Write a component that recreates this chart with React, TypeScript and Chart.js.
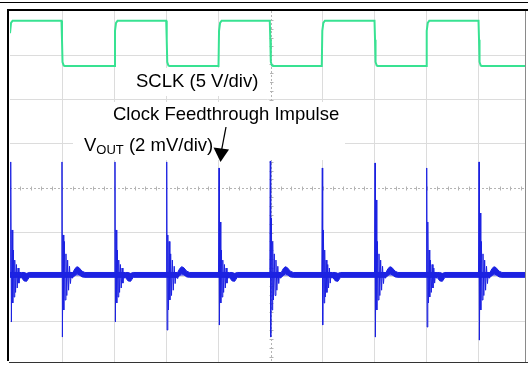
import { useEffect, useRef } from "react";
import { Chart, registerables } from "chart.js";

Chart.register(...registerables);

// ---- axes (oscilloscope divisions) ----
const timeMin = 0;
const timeMax = 9.894;
const levelMin = -3.92;
const levelMax = 4;
const gridTimes = [1, 2, 3, 4, 5, 6, 7, 8, 9];
const gridLevels = [-3, -2, -1, 0, 1, 2, 3];
const centerTime = 5;
const centerLevel = 0;

// ---- SCLK trace (divisions) ----
const sclkTime = [
  0.0, 0.02, 0.05,
  0.988, 0.998, 1.008, 1.03, 1.05,
  2.005, 2.015, 2.035, 2.065,
  2.998, 3.008, 3.018, 3.04, 3.06,
  4.002, 4.012, 4.032, 4.062,
  4.986, 4.996, 5.006, 5.028, 5.048,
  5.984, 5.994, 6.014, 6.044,
  6.996, 7.006, 7.016, 7.038, 7.058,
  7.988, 7.998, 8.018, 8.048,
  8.992, 9.002, 9.012, 9.034, 9.054,
  9.894,
];
const sclkLevel = [
  3.5, 3.73, 3.78,
  3.78, 3.35, 2.85, 2.77, 2.76,
  2.76, 3.55, 3.73, 3.78,
  3.78, 3.35, 2.85, 2.77, 2.76,
  2.76, 3.55, 3.73, 3.78,
  3.78, 3.35, 2.85, 2.77, 2.76,
  2.76, 3.55, 3.73, 3.78,
  3.78, 3.35, 2.85, 2.77, 2.76,
  2.76, 3.55, 3.73, 3.78,
  3.78, 3.35, 2.85, 2.77, 2.76,
  2.76,
];

// ---- VOUT trace (divisions) ----
const voutBaseline = -1.957;
const voutBandMax = -1.9;
const voutBandMin = -2.01;
const clockEdgeTime = [0.019, 0.998, 2.015, 3.008, 4.012, 4.996, 5.994, 7.006, 7.998, 9.002];
const edgeIsRising = [true, false, true, false, true, false, true, false, true, false];
const spikeTop = [0.594, 0.594, 0.594, 0.594, 0.458, 0.616, 0.458, 0.571, 0.458, 0.594];
const spikeBottom = [-3.018, -3.357, -3.018, -3.199, -3.086, -3.357, -3.086, -3.357, -3.131, -3.425];
const spikeSecond = [-0.941, -1.054, -0.941, -1.054, -0.761, -0.67, -0.941, -0.264, -0.761, -0.558];
// ringing after a rising clock edge (offset from edge, level)
const riseRingOffset = [0.034, 0.046, 0.058, 0.072, 0.088, 0.104, 0.12, 0.136, 0.152, 0.17, 0.188, 0.206];
const riseRingLevel = [-2.589, -1.393, -2.454, -1.62, -2.35, -1.72, -2.25, -1.8, -2.14, -1.9, -2.03, -1.957];
// ringing after a falling clock edge
const fallRingOffset = [0.034, 0.046, 0.06, 0.076, 0.092, 0.108, 0.126, 0.144, 0.162, 0.18, 0.198, 0.216];
const fallRingLevel = [-2.747, -1.2, -2.521, -1.48, -2.42, -1.62, -2.3, -1.76, -2.15, -1.89, -2.03, -1.957];
// slow settling of the noise band after each edge
const riseSettleOffset = [0.2, 0.25, 0.3, 0.35];
const riseSettleMax = [-1.9, -1.9, -1.92, -1.9];
const riseSettleMin = [-2.01, -2.09, -2.1, -2.01];
const fallSettleOffset = [0.21, 0.25, 0.288, 0.326, 0.384, 0.44];
const fallSettleMax = [-1.9, -1.81, -1.77, -1.79, -1.87, -1.9];
const fallSettleMin = [-2.01, -1.97, -1.93, -1.95, -2.0, -2.01];

// ---- labels ----
const sclkLabel = "SCLK (5 V/div)";
const impulseLabel = "Clock Feedthrough Impulse";
const voutMain = "V";
const voutSub = "OUT";
const voutRest = " (2 mV/div)";

const BLUE = "rgb(28,34,226)";
const GREEN = "rgb(56,226,146)";
const FONT = '"Liberation Sans", Arial, Helvetica, sans-serif';

function buildVout() {
  const line: { x: number; y: number }[] = [{ x: timeMin, y: voutBaseline }];
  const bandMax: { x: number; y: number }[] = [{ x: timeMin, y: voutBandMax }];
  const bandMin: { x: number; y: number }[] = [{ x: timeMin, y: voutBandMin }];
  clockEdgeTime.forEach((e, i) => {
    const rising = edgeIsRising[i];
    line.push({ x: e - 0.01, y: voutBaseline });
    line.push({ x: e, y: spikeTop[i] });
    line.push({ x: e + 0.0077, y: spikeBottom[i] });
    line.push({ x: e + 0.021, y: spikeSecond[i] });
    const off = rising ? riseRingOffset : fallRingOffset;
    const lv = rising ? riseRingLevel : fallRingLevel;
    off.forEach((o, k) => line.push({ x: e + o, y: lv[k] }));
    const so = rising ? riseSettleOffset : fallSettleOffset;
    const sMax = rising ? riseSettleMax : fallSettleMax;
    const sMin = rising ? riseSettleMin : fallSettleMin;
    so.forEach((o, k) => {
      bandMax.push({ x: e + o, y: sMax[k] });
      bandMin.push({ x: e + o, y: sMin[k] });
    });
  });
  line.push({ x: timeMax, y: voutBaseline });
  bandMax.push({ x: timeMax, y: voutBandMax });
  bandMin.push({ x: timeMax, y: voutBandMin });
  return { line, bandMax, bandMin };
}

const decorPlugin = {
  id: "scopeDecor",
  beforeDatasetsDraw(chart: any) {
    const { ctx, chartArea, scales } = chart;
    const xs = scales.x;
    const ys = scales.y;
    ctx.save();
    const cy = Math.round(ys.getPixelForValue(centerLevel)) + 0.5;
    const cx = Math.round(xs.getPixelForValue(centerTime)) + 0.5;
    ctx.strokeStyle = "#b4b4b4";
    ctx.lineWidth = 1;
    ctx.setLineDash([2, 2]);
    ctx.beginPath();
    ctx.moveTo(chartArea.left, cy);
    ctx.lineTo(chartArea.right, cy);
    ctx.moveTo(cx, chartArea.top);
    ctx.lineTo(cx, chartArea.bottom);
    ctx.stroke();
    ctx.setLineDash([]);
    ctx.beginPath();
    for (let t = timeMin; t <= timeMax; t += 0.2) {
      const px = Math.round(xs.getPixelForValue(t)) + 0.5;
      ctx.moveTo(px, cy - 2);
      ctx.lineTo(px, cy + 2);
    }
    for (let v = -3.8; v <= levelMax; v += 0.2) {
      const py = Math.round(ys.getPixelForValue(v)) + 0.5;
      ctx.moveTo(cx - 2, py);
      ctx.lineTo(cx + 2, py);
    }
    ctx.stroke();
    ctx.fillStyle = "#ffffff";
    ctx.fillRect(125, 68, 145, 28);
    ctx.fillRect(73, 102, 272, 58);
    ctx.restore();
  },
  afterDatasetsDraw(chart: any) {
    const { ctx } = chart;
    ctx.save();
    ctx.fillStyle = "#000";
    ctx.textBaseline = "alphabetic";
    ctx.font = `18.5px ${FONT}`;
    ctx.fillText(sclkLabel, 136, 87);
    ctx.fillText(impulseLabel, 113, 120);
    let x = 84;
    ctx.fillText(voutMain, x, 151);
    x += ctx.measureText(voutMain).width;
    ctx.font = `13px ${FONT}`;
    ctx.fillText(voutSub, x, 154);
    x += ctx.measureText(voutSub).width;
    ctx.font = `18.5px ${FONT}`;
    ctx.fillText(voutRest, x, 151);
    ctx.strokeStyle = "#000";
    ctx.lineWidth = 1.3;
    ctx.beginPath();
    ctx.moveTo(226, 127);
    ctx.lineTo(221.6, 150);
    ctx.stroke();
    ctx.beginPath();
    ctx.moveTo(220.5, 162);
    ctx.lineTo(213.5, 147.5);
    ctx.lineTo(229, 149.5);
    ctx.closePath();
    ctx.fill();
    ctx.restore();
  },
  afterDraw(chart: any) {
    const { ctx } = chart;
    ctx.save();
    ctx.fillStyle = "#000";
    ctx.fillRect(0, 2, 528, 1);
    ctx.fillRect(7, 9, 521, 2);
    ctx.fillRect(7, 9, 2, 352);
    ctx.fillStyle = "#8a8a8a";
    ctx.fillRect(525, 11, 1, 352);
    ctx.fillStyle = "#333";
    ctx.fillRect(9, 362, 519, 1);
    ctx.restore();
  },
};

export default function App() {
  const canvasRef = useRef<HTMLCanvasElement | null>(null);

  useEffect(() => {
    document.body.style.margin = "0";
    const canvas = canvasRef.current;
    if (!canvas) return;
    const { line, bandMax, bandMin } = buildVout();
    const sclkPts = sclkTime.map((t, i) => ({ x: t, y: sclkLevel[i] }));
    const chart = new Chart(canvas, {
      type: "line",
      data: {
        datasets: [
          {
            label: "VOUT noise max",
            data: bandMax,
            borderColor: BLUE,
            borderWidth: 1,
            pointRadius: 0,
            tension: 0,
            fill: false,
          },
          {
            label: "VOUT noise min",
            data: bandMin,
            borderColor: BLUE,
            backgroundColor: BLUE,
            borderWidth: 1,
            pointRadius: 0,
            tension: 0,
            fill: "-1",
          },
          {
            label: "VOUT",
            data: line,
            borderColor: BLUE,
            borderWidth: 1,
            pointRadius: 0,
            tension: 0,
            fill: false,
          },
          {
            label: "SCLK",
            data: sclkPts,
            borderColor: GREEN,
            borderWidth: 2,
            pointRadius: 0,
            tension: 0,
            fill: false,
          },
        ],
      },
      options: {
        responsive: false,
        animation: false,
        devicePixelRatio: 1,
        parsing: false,
        normalized: true,
        layout: { padding: { left: 10, top: 11, right: 2.5, bottom: 3 } },
        plugins: {
          legend: { display: false },
          tooltip: { enabled: false },
          title: { display: false },
        },
        scales: {
          x: {
            type: "linear",
            min: timeMin,
            max: timeMax,
            ticks: { display: false },
            border: { display: false },
            grid: {
              drawTicks: false,
              lineWidth: 1,
              color: (c: any) => (c.tick && c.tick.value === centerTime ? "rgba(0,0,0,0)" : "#dcdcdc"),
            },
            afterBuildTicks: (axis: any) => {
              axis.ticks = gridTimes.map((v) => ({ value: v }));
            },
          },
          y: {
            type: "linear",
            min: levelMin,
            max: levelMax,
            ticks: { display: false },
            border: { display: false },
            grid: {
              drawTicks: false,
              lineWidth: 1,
              color: (c: any) => (c.tick && c.tick.value === centerLevel ? "rgba(0,0,0,0)" : "#dcdcdc"),
            },
            afterBuildTicks: (axis: any) => {
              axis.ticks = gridLevels.map((v) => ({ value: v }));
            },
          },
        },
      },
      plugins: [decorPlugin],
    });
    return () => chart.destroy();
  }, []);

  return (
    <div style={{ position: "fixed", left: 0, top: 0, width: 528, height: 365, background: "#fff" }}>
      <canvas ref={canvasRef} width={528} height={365} style={{ display: "block" }} />
    </div>
  );
}
